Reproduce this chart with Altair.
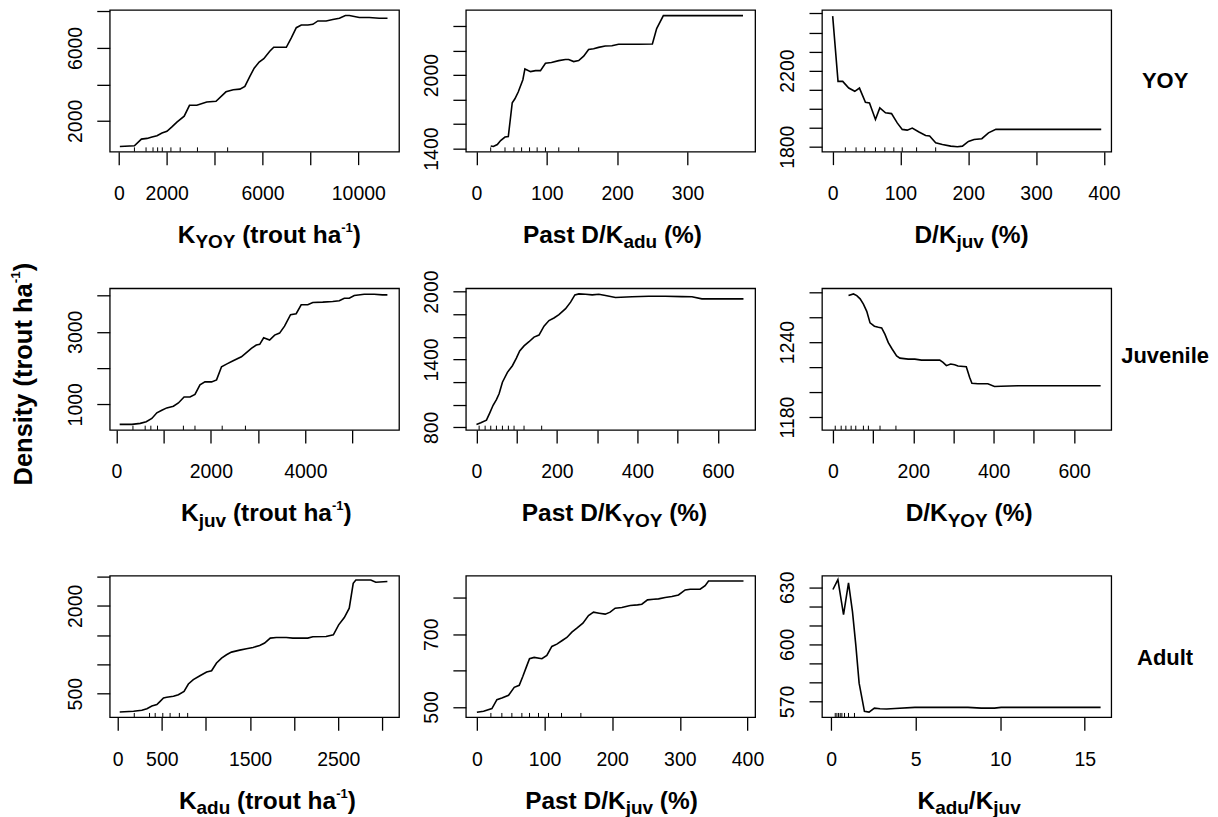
import json
import altair as alt
import pandas as pd

FONT = "Liberation Sans"

# ---------------- data ----------------
# Row 1 (YOY)
kyoy_x = [42, 651, 942, 1177, 1385, 1593, 1801, 2008, 2216, 2424, 2729, 2950, 3255, 3670, 4058, 4474, 4778, 5055, 5263, 5471,
          5651, 5859, 6053, 6302, 6468, 6828, 6994, 7202, 7410, 7618, 7895, 8102, 8310, 8657, 8934, 9211, 9460, 9626, 10042, 10457,
          10873, 11219]
kyoy_y = [593, 630, 1000, 1037, 1111, 1185, 1333, 1426, 1667, 1926, 2259, 2852, 2852, 3037, 3074, 3593, 3704, 3741, 3889, 4444,
          4889, 5222, 5407, 5815, 6037, 6037, 6037, 6556, 7111, 7259, 7259, 7296, 7481, 7481, 7556, 7630, 7778, 7778, 7667, 7667,
          7630, 7630]
kyoy_rug = [651, 1136, 1427, 1620, 1814, 2174, 2562, 3283, 4543]

pdkadu_x = [20.3, 24.1, 29.7, 34.4, 40.6, 45.3, 50.9, 54.7, 59.4, 66.0, 68.9, 76.9, 84.0, 91.0, 98.1, 106.6, 117.0, 126.4, 131.1,
            138.2, 145.3, 152.4, 159.4, 166.5, 173.6, 183.0, 192.5, 201.9, 211.3, 230.2, 250.0, 256.1, 265.6, 378.8]
pdkadu_y = [1422, 1417, 1433, 1466, 1494, 1499, 1774, 1807, 1862, 1962, 2050, 2028, 2036, 2036, 2096, 2102, 2118, 2127, 2127,
            2110, 2118, 2154, 2209, 2215, 2226, 2237, 2240, 2251, 2251, 2251, 2253, 2380, 2485, 2485]
pdkadu_rug = [20.3, 40.6, 53.3, 64.2, 75.5, 86.3, 98.1, 117.0, 145.3]

dkjuv_x = [0, 7.9, 14.8, 23.7, 32.6, 39.5, 48.3, 54.3, 63.1, 69.5, 77.9, 86.8, 95.2, 102.6, 110.0, 117.4, 127.3, 137.1, 143.0,
           151.9, 161.8, 174.1, 184.0, 191.4, 200.2, 208.6, 220.0, 229.8, 240.7, 260.4, 299.9, 349.2, 396.1]
dkjuv_y = [2486, 2143, 2143, 2108, 2091, 2108, 2033, 2030, 1943, 2004, 1978, 1974, 1925, 1891, 1887, 1898, 1877, 1859, 1856,
           1821, 1812, 1803, 1800, 1803, 1828, 1838, 1842, 1873, 1891, 1891, 1891, 1891, 1891]
dkjuv_rug = [18.7, 34.5, 47.3, 63.1, 76.9, 90.2, 102.6, 123.8, 151.9]

# Row 2 (Juvenile)
kjuv_x = [70, 330, 506, 632, 751, 857, 962, 1067, 1208, 1313, 1433, 1559, 1664, 1770, 1875, 2015, 2121, 2226, 2331, 2472,
          2647, 2753, 2858, 2963, 3034, 3118, 3244, 3350, 3455, 3560, 3687, 3806, 3912, 4052, 4157, 4368, 4579, 4719, 4824, 4930,
          5035, 5246, 5456, 5632, 5737]
kjuv_y = [445, 445, 473, 518, 609, 764, 836, 900, 945, 1036, 1200, 1200, 1273, 1536, 1618, 1618, 1673, 2036, 2109, 2200,
          2309, 2427, 2545, 2636, 2655, 2836, 2773, 2909, 2964, 3155, 3473, 3500, 3745, 3745, 3809, 3818, 3836, 3855, 3927, 3927,
          4000, 4036, 4036, 4018, 4018]
kjuv_rug = [351, 610, 730, 871, 1419, 1664, 2240, 2732]

pdkyoy_x = [0, 10.7, 24.8, 33.1, 41.3, 49.6, 56.2, 64.5, 76.9, 89.3, 99.2, 107.4, 118.2, 130.6, 143.0, 155.4, 167.8, 180.2, 192.6,
            205.0, 221.5, 233.9, 244.6, 254.5, 271.1, 287.6, 304.1, 320.7, 345.5, 386.8, 428.1, 469.4, 510.7, 535.5, 560.3, 593.4,
            634.7, 663.6]
pdkyoy_y = [826, 841, 864, 928, 995, 1045, 1097, 1199, 1286, 1345, 1412, 1476, 1520, 1557, 1598, 1616, 1694, 1744, 1767,
            1796, 1849, 1907, 1971, 1980, 1977, 1971, 1977, 1965, 1948, 1954, 1959, 1959, 1956, 1954, 1936, 1936,
            1936, 1936]
pdkyoy_rug = [6.6, 21.5, 35.5, 49.6, 64.5, 79.3, 93.4, 118.2, 162.0]

dkyoy_x = [38.8, 51.2, 59.4, 67.7, 75.9, 84.2, 92.4, 103.2, 113.1, 121.3, 129.6, 137.8, 147.7, 158.5, 166.7, 187.3, 203.8, 220.4,
           245.1, 265.7, 274.0, 282.3, 293.0, 302.9, 311.1, 331.8, 340.0, 345.8, 360.7, 385.4, 401.9, 418.4, 459.7, 542.2, 666.0]
dkyoy_y = [1277.1, 1278.4, 1277.1, 1274.5, 1270.3, 1264.5, 1255.3, 1252.6, 1251.8, 1251.3, 1246.1, 1239.5, 1234.2, 1228.9,
           1227.1, 1226.3, 1226.3, 1225.5, 1225.5, 1225.5, 1223.7, 1221.1, 1222.4, 1221.8, 1220.8, 1220.3, 1211.8, 1207.1,
           1206.6, 1206.6, 1204.5, 1204.7, 1205.0, 1205.0, 1205.0]
dkyoy_rug = [5.8, 20.6, 32.2, 45.4, 56.9, 75.9, 88.3, 117.2, 156.8]

# Row 3 (Adult)
kadu_x = [23, 180, 274, 331, 387, 444, 481, 519, 556, 632, 688, 752, 801, 857, 932, 1008, 1064, 1120, 1177, 1233,
          1289, 1383, 1459, 1534, 1609, 1665, 1729, 1797, 1910, 1985, 2154, 2211, 2361, 2444, 2504, 2568, 2624, 2669, 2699, 2868,
          2925, 3056]
kadu_y = [187.5, 199, 216, 244, 290, 312.5, 369, 426, 437.5, 454.5, 483, 540, 665, 739, 807, 869, 892, 1023, 1108, 1165,
          1210, 1244, 1267, 1290, 1324, 1364, 1449, 1460, 1460, 1449, 1449, 1472, 1477, 1506, 1676, 1801, 1960, 2386, 2443, 2443,
          2403, 2415]
kadu_rug = [188, 361, 425, 511, 594, 699, 793]

pdkjuv_x = [0, 9.9, 22.2, 29.6, 36.9, 46.8, 55.2, 62.6, 68.0, 72.9, 77.8, 84.7, 96.1, 103.4, 110.8, 118.2, 125.6, 133.0, 140.4,
            147.8, 156.7, 165.0, 172.4, 180.8, 189.7, 197.0, 204.4, 214.3, 226.6, 237.4, 243.8, 252.2, 261.1, 268.5, 278.3,
            288.2, 298.0, 307.9, 315.3, 330.0, 337.4, 342.4, 394.1]
pdkjuv_y = [485.4, 488.1, 495.4, 520.1, 524.7, 532.0, 554.0, 559.5, 584.2, 608.9, 632.7, 636.3, 632.7, 641.8, 666.5, 672.9,
            682.1, 691.2, 705.9, 716.8, 730.6, 751.6, 760.8, 758.0, 755.3, 760.8, 771.7, 773.6, 779.0, 780.9, 782.7, 794.6,
            796.4, 797.3, 801.0, 803.8, 808.3, 822.0, 823.9, 823.9, 833.9, 846.7, 846.7]
pdkjuv_rug = [20.7, 36.9, 51.7, 66.5, 77.8, 91.1, 105.9, 125.1, 153.7]

ratio_x = [0.098, 0.393, 0.726, 1.021, 1.257, 1.453, 1.649, 1.963, 2.238, 2.553, 2.886, 3.279, 3.770, 4.948, 6.126, 8.090,
           8.875, 9.660, 10.05, 12.02, 13.98, 15.94]
ratio_y = [628.8, 634.0, 615.6, 632.3, 617.0, 599.6, 579.6, 564.8, 564.4, 566.5, 566.2, 566.0, 566.3, 566.9, 566.9, 566.9,
           566.5, 566.5, 566.9, 566.9, 566.9, 566.9]
ratio_rug = [0.236, 0.334, 0.432, 0.530, 0.628, 0.785, 1.021, 1.374]

# axis ticks and which of them carry a label
x_ticks = {
    "kyoy": ([0, 2000, 4000, 6000, 8000, 10000], [0, 2000, 6000, 10000]),
    "pdkadu": ([0, 100, 200, 300], [0, 100, 200, 300]),
    "dkjuv": ([0, 100, 200, 300, 400], [0, 100, 200, 300, 400]),
    "kjuv": ([0, 1000, 2000, 3000, 4000, 5000], [0, 2000, 4000]),
    "pdkyoy": ([0, 100, 200, 300, 400, 500, 600], [0, 200, 400, 600]),
    "dkyoy": ([0, 100, 200, 300, 400, 500, 600], [0, 200, 400, 600]),
    "kadu": ([0, 500, 1000, 1500, 2000, 2500, 3000], [0, 500, 1500, 2500]),
    "pdkjuv": ([0, 100, 200, 300, 400], [0, 100, 200, 300, 400]),
    "ratio": ([0, 5, 10, 15], [0, 5, 10, 15]),
}
y_ticks = {
    "kyoy": ([2000, 4000, 6000, 8000], [2000, 6000]),
    "pdkadu": ([1400, 1600, 1800, 2000, 2200, 2400], [1400, 2000]),
    "dkjuv": ([1800, 1900, 2000, 2100, 2200, 2300, 2400, 2500], [1800, 2200]),
    "kjuv": ([1000, 2000, 3000, 4000], [1000, 3000]),
    "pdkyoy": ([800, 1000, 1200, 1400, 1600, 1800, 2000], [800, 1400, 2000]),
    "dkyoy": ([1180, 1200, 1220, 1240, 1260, 1280], [1180, 1240]),
    "kadu": ([500, 1000, 1500, 2000, 2500], [500, 2000]),
    "pdkjuv": ([500, 600, 700, 800], [500, 700]),
    "ratio": ([570, 580, 590, 600, 610, 620, 630], [570, 600, 630]),
}
x_domains = {
    "kyoy": [-380, 11700], "pdkadu": [-15, 396], "dkjuv": [-15.8, 410.9],
    "kjuv": [-140, 5983], "pdkyoy": [-26.4, 692.6], "dkyoy": [-27.2, 692.4],
    "kadu": [-90, 3188], "pdkjuv": [-16.3, 411.3], "ratio": [-0.55, 16.57],
}
y_domains = {
    "kyoy": [310, 8080], "pdkadu": [1375, 2531], "dkjuv": [1774, 2518],
    "kjuv": [291, 4200], "pdkyoy": [777, 2029], "dkyoy": [1169.7, 1282.9],
    "kadu": [97, 2517], "pdkjuv": [471.6, 861.4], "ratio": [561.7, 636.1],
}

# axis titles: (text, style)  m = main, b = subscript, p = superscript
titles = {
    "kyoy": [("K", "m"), ("YOY", "b"), (" (trout ha", "m"), ("-1", "p"), (")", "m")],
    "pdkadu": [("Past D/K", "m"), ("adu", "b"), (" (%)", "m")],
    "dkjuv": [("D/K", "m"), ("juv", "b"), (" (%)", "m")],
    "kjuv": [("K", "m"), ("juv", "b"), (" (trout ha", "m"), ("-1", "p"), (")", "m")],
    "pdkyoy": [("Past D/K", "m"), ("YOY", "b"), (" (%)", "m")],
    "dkyoy": [("D/K", "m"), ("YOY", "b"), (" (%)", "m")],
    "kadu": [("K", "m"), ("adu", "b"), (" (trout ha", "m"), ("-1", "p"), (")", "m")],
    "pdkjuv": [("Past D/K", "m"), ("juv", "b"), (" (%)", "m")],
    "ratio": [("K", "m"), ("adu", "b"), ("/K", "m"), ("juv", "b")],
}
title_dx = {"kyoy": 15, "pdkadu": 2, "dkjuv": 5, "kjuv": 12, "pdkyoy": 4, "dkyoy": 2.5,
            "kadu": 13, "pdkjuv": 1, "ratio": 2.5}
ylab_segs = [("Density (trout ha", "m"), ("-1", "p"), (")", "m")]
row_labels = ["YOY", "Juvenile", "Adult"]

# ---------------- helpers ----------------
PW, PH = 290, 142
TITLE_Y = 233.5
CW = {" ": 278, "(": 333, ")": 333, "%": 889, "-": 333, "/": 278, "1": 556, "A": 722, "D": 722, "J": 556,
      "K": 722, "O": 778, "P": 667, "Y": 667, "a": 556, "d": 611, "e": 556, "h": 611, "i": 278, "j": 278,
      "l": 278, "n": 611, "o": 611, "r": 389, "s": 556, "t": 333, "u": 611, "v": 556, "y": 556}


def tw(s, size):
    return sum(CW.get(c, 556) for c in s) * size / 1000.0


def one():
    return alt.Data(values=[{"k": 1}])


def seg_layers(segs, cx, cy, sizes, shifts, vertical=False):
    parts = []
    for text, kind in segs:
        size = sizes[kind]
        core = text.strip(" ")
        lead = len(text) - len(text.lstrip(" "))
        parts.append((core, size, shifts[kind], tw(" " * lead, size), tw(core, size)))
    total = sum(p[3] + p[4] for p in parts)
    pos = -total / 2.0
    out = []
    for t, size, sh, gap, w in parts:
        pos += gap
        if vertical:
            enc = dict(x=alt.value(cx + sh), y=alt.value(cy - pos))
            extra = dict(angle=270)
        else:
            enc = dict(x=alt.value(cx + pos), y=alt.value(cy + sh))
            extra = {}
        out.append(
            alt.Chart(one()).mark_text(text=t, align="left", baseline="alphabetic", font=FONT,
                                       fontSize=size, fontWeight="bold", color="black", **extra).encode(**enc)
        )
        pos += w
    return out


def lab_expr(labs):
    return "indexof(" + json.dumps(labs) + ", datum.value) >= 0 ? format(datum.value, 'd') : ''"


def spacer(x, y0, y1):
    # invisible element that fixes the layout bounds of a row
    return alt.Chart(one()).mark_rule(opacity=0, strokeWidth=0.01).encode(
        x=alt.value(x), y=alt.value(y0), y2=alt.value(y1))


T_SIZES = {"m": 24.5, "b": 19, "p": 13}
T_SHIFT = {"m": 0, "b": 5.5, "p": -11}


def panel(key, xv, yv, rug, extra=()):
    xs = alt.Scale(domain=x_domains[key], nice=False, zero=False)
    ys = alt.Scale(domain=y_domains[key], nice=False, zero=False)
    xt, xl = x_ticks[key]
    yt, yl = y_ticks[key]
    xax = alt.Axis(values=xt, labelExpr=lab_expr(xl), labelPadding=35, labelBaseline="alphabetic",
                   labelAlign="center", labelAngle=0)
    yax = alt.Axis(values=yt, labelExpr=lab_expr(yl), labelPadding=15.3, labelBaseline="alphabetic",
                   labelAlign="center", labelAngle=270)
    X = alt.X("x:Q", scale=xs, axis=xax, title=None)
    line = alt.Chart(pd.DataFrame({"x": xv, "y": yv})).mark_line(color="black", strokeWidth=1.6).encode(
        x=X, y=alt.Y("y:Q", scale=ys, axis=yax, title=None))
    rugc = alt.Chart(pd.DataFrame({"x": rug})).mark_rule(color="black", strokeWidth=1).encode(
        x=X, y=alt.value(PH), y2=alt.value(PH - 4.3))
    layers = [line, rugc] + seg_layers(titles[key], PW / 2.0 + title_dx[key], TITLE_Y, T_SIZES, T_SHIFT)
    layers += list(extra)
    return alt.layer(*layers).properties(width=PW, height=PH)


def row_label(text, y):
    return alt.Chart(one()).mark_text(text=text, align="center", baseline="alphabetic", font=FONT,
                                      fontSize=22, fontWeight="bold", color="black").encode(
        x=alt.value(344), y=alt.value(y))


density = seg_layers(ylab_segs, -78, 86, {"m": 25.5, "p": 13.5}, {"m": 0, "p": -11.5}, vertical=True)

p1 = panel("kyoy", kyoy_x, kyoy_y, kyoy_rug, [spacer(100, 0, 245)])
p2 = panel("pdkadu", pdkadu_x, pdkadu_y, pdkadu_rug)
p3 = panel("dkjuv", dkjuv_x, dkjuv_y, dkjuv_rug, [row_label(row_labels[0], 78.5)])
p4 = panel("kjuv", kjuv_x, kjuv_y, kjuv_rug, density + [spacer(-101, 0, 5), spacer(100, -28, 254)])
p5 = panel("pdkyoy", pdkyoy_x, pdkyoy_y, pdkyoy_rug)
p6 = panel("dkyoy", dkyoy_x, dkyoy_y, dkyoy_rug, [row_label(row_labels[1], 74.7)])
p7 = panel("kadu", kadu_x, kadu_y, kadu_rug, [spacer(100, -28, 250)])
p8 = panel("pdkjuv", pdkjuv_x, pdkjuv_y, pdkjuv_rug)
p9 = panel("ratio", ratio_x, ratio_y, ratio_rug, [row_label(row_labels[2], 89.3)])

row1 = alt.hconcat(p1, p2, p3, spacing=67, bounds="flush")
row2 = alt.hconcat(p4, p5, p6, spacing=67, bounds="flush")
row3 = alt.hconcat(p7, p8, p9, spacing=67, bounds="flush")

chart = alt.vconcat(row1, row2, row3, spacing=4).properties(
    padding={"left": 0, "top": 0, "right": 0, "bottom": 0}
).configure_view(
    stroke="black", strokeWidth=1.3
).configure_axis(
    domain=False, grid=False, ticks=True, tickColor="black", tickWidth=1.3, tickSize=13,
    labelColor="black", labelFont=FONT, labelFontSize=19.5, labelFlush=False, labelOverlap=False,
    labelBound=False
)

chart.save("out.html", embed_options={"renderer": "svg", "actions": False})
